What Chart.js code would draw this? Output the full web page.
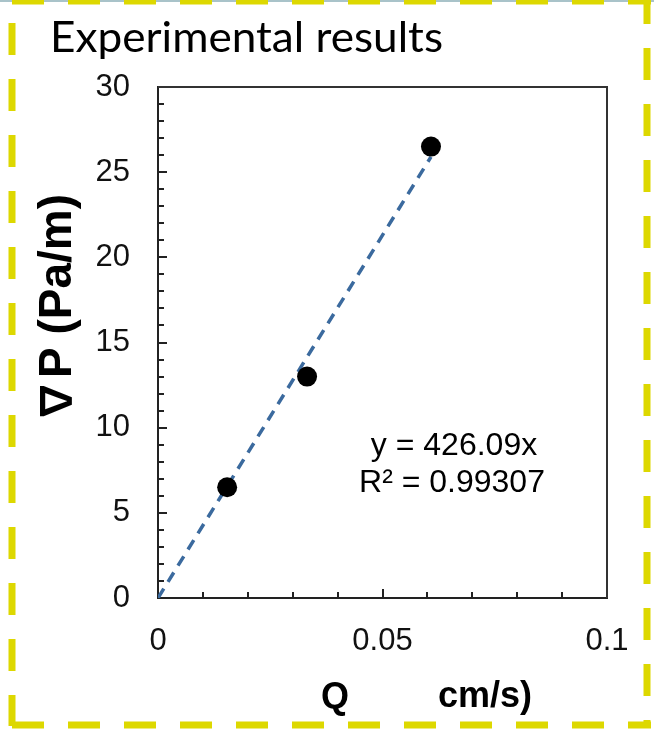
<!DOCTYPE html>
<html>
<head>
<meta charset="utf-8">
<script src="https://cdn.jsdelivr.net/npm/chart.js@4/dist/chart.umd.min.js"></script>
<style>
html,body{margin:0;padding:0;background:#fff;}
#wrap{position:relative;width:654px;height:729px;}
</style>
</head>
<body>
<div id="wrap"><canvas id="c" width="654" height="729"></canvas></div>
<script>
// ---- data ----
const qValues = [0.0154, 0.0332, 0.0608];      // Q
const dpValues = [6.5, 13.0, 26.5];            // ∇P (Pa/m)
const trendQ = [0, 0.0608];
const trendDP = [0, 25.9];
const xTickValues = [0, 0.05, 0.1];
const xTickLabels = ['0', '0.05', '0.1'];
const yTickValues = [0, 5, 10, 15, 20, 25, 30];
const yTickLabels = ['0', '5', '10', '15', '20', '25', '30'];
const titleText = 'Experimental results';
const yTitleSym = '\u2207';
const yTitleRest = 'P (Pa/m)';
const xTitleA = 'Q';
const xTitleB = 'cm/s)';
const eqLines = ['y = 426.09x', 'R\u00b2 = 0.99307'];

const pointData = qValues.map((q, i) => ({x: q, y: dpValues[i]}));
const trendData = trendQ.map((q, i) => ({x: q, y: trendDP[i]}));

const tickFont = {family: '"Liberation Sans", Arial, sans-serif', size: 31};

const decor = {
  id: 'decor',
  afterDraw(chart) {
    const ctx = chart.ctx;
    const xs = chart.scales.x, ys = chart.scales.y;
    const a = chart.chartArea;
    ctx.save();
    // box top & right
    ctx.strokeStyle = '#333';
    ctx.lineWidth = 2;
    ctx.beginPath();
    ctx.moveTo(a.left, a.top); ctx.lineTo(a.right, a.top); ctx.lineTo(a.right, a.bottom);
    ctx.stroke();
    // ticks (inward)
    ctx.strokeStyle = '#222';
    ctx.lineWidth = 2;
    for (let v = 1; v < 30; v++) {
      const y = Math.round(ys.getPixelForValue(v));
      const len = (v % 5 === 0) ? 9 : 6;
      ctx.beginPath(); ctx.moveTo(a.left, y); ctx.lineTo(a.left + len, y); ctx.stroke();
    }
    for (let k = 1; k < 10; k++) {
      const x = Math.round(xs.getPixelForValue(k / 100));
      const len = (k % 5 === 0) ? 9 : 6;
      ctx.beginPath(); ctx.moveTo(x, a.bottom); ctx.lineTo(x, a.bottom - len); ctx.stroke();
    }
    // title
    ctx.fillStyle = '#000';
    ctx.font = '42px Lato, "Open Sans", sans-serif';
    ctx.textBaseline = 'alphabetic';
    ctx.textAlign = 'left';
    const tw = ctx.measureText(titleText).width;
    ctx.save();
    ctx.translate(50, 52);
    ctx.scale(393 / tw, 1);
    ctx.fillText(titleText, 0, 0);
    ctx.restore();
    // y title
    ctx.save();
    ctx.translate(71, 0);
    ctx.rotate(-Math.PI / 2);
    ctx.textAlign = 'left';
    ctx.font = 'bold 42px "Noto Sans CJK SC", "DejaVu Sans", sans-serif';
    ctx.fillText(yTitleSym, -422, 0);
    ctx.font = 'bold 46px "Liberation Sans", Arial, sans-serif';
    ctx.fillText(yTitleRest, -378, 0);
    ctx.restore();
    // x title
    ctx.font = 'bold 36px "Liberation Sans", Arial, sans-serif';
    ctx.textAlign = 'left';
    ctx.fillText(xTitleA, 321, 708);
    ctx.fillText(xTitleB, 438, 707);
    // equation
    ctx.font = '32px "Liberation Sans", Arial, sans-serif';
    ctx.textAlign = 'center';
    ctx.fillText(eqLines[0], 454, 455);
    ctx.fillText(eqLines[1], 452, 492);
    // top thin line
    ctx.strokeStyle = '#A9C3C9';
    ctx.lineWidth = 2;
    ctx.beginPath(); ctx.moveTo(0, 1); ctx.lineTo(654, 1); ctx.stroke();
    // dashed yellow frame
    ctx.strokeStyle = '#DDD800';
    ctx.setLineDash([32, 24]);
    ctx.lineWidth = 5;
    ctx.beginPath(); ctx.moveTo(12, 2); ctx.lineTo(651, 2); ctx.stroke();
    ctx.lineWidth = 7;
    ctx.lineDashOffset = 0;
    ctx.beginPath(); ctx.moveTo(12, 23); ctx.lineTo(12, 726); ctx.stroke();
    ctx.lineDashOffset = 8;
    ctx.beginPath(); ctx.moveTo(647, 0); ctx.lineTo(647, 726); ctx.stroke();
    ctx.lineDashOffset = 0;
    ctx.beginPath(); ctx.moveTo(12, 725); ctx.lineTo(651, 725); ctx.stroke();
    ctx.restore();
  }
};

new Chart(document.getElementById('c'), {
  type: 'scatter',
  data: {
    datasets: [
      {
        data: pointData,
        backgroundColor: '#000',
        borderColor: '#000',
        pointRadius: 10,
        pointBorderWidth: 0,
        showLine: false
      },
      {
        data: trendData,
        showLine: true,
        borderColor: '#3B6A9E',
        borderWidth: 3.5,
        borderDash: [11, 8],
        pointRadius: 0,
        fill: false
      }
    ]
  },
  options: {
    responsive: false,
    animation: false,
    devicePixelRatio: 1,
    layout: {padding: {top: 87, right: 47, left: 0, bottom: 0}},
    plugins: {legend: {display: false}, tooltip: {enabled: false}, title: {display: false}},
    scales: {
      x: {
        type: 'linear', min: 0, max: 0.1,
        afterBuildTicks: s => { s.ticks = xTickValues.map(v => ({value: v})); },
        afterFit: s => { s.height = 131; },
        ticks: {
          callback: (v, i) => xTickLabels[i],
          font: tickFont, color: '#111', padding: 25, maxRotation: 0
        },
        grid: {display: false, drawTicks: false},
        border: {display: true, color: '#222', width: 2}
      },
      y: {
        type: 'linear', min: 0, max: 30,
        afterBuildTicks: s => { s.ticks = yTickValues.map(v => ({value: v})); },
        afterFit: s => { s.width = 158; },
        ticks: {
          callback: (v, i) => yTickLabels[i],
          font: tickFont, color: '#111', padding: 28
        },
        grid: {display: false, drawTicks: false},
        border: {display: true, color: '#222', width: 2}
      }
    }
  },
  plugins: [decor]
});
</script>
</body>
</html>
